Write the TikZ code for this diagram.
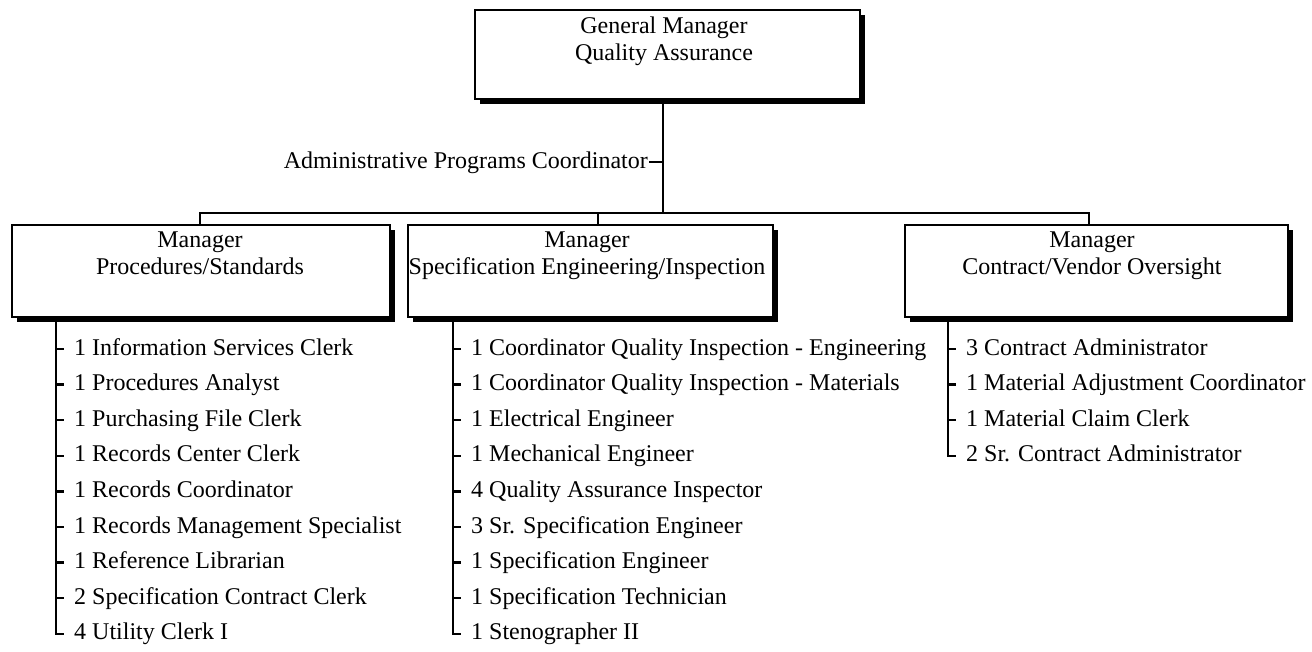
\documentclass[tikz,border=0pt]{standalone}
\usepackage{fontspec}
\setmainfont{Liberation Serif}
\usetikzlibrary{shadows,calc}
\begin{document}
\begin{tikzpicture}[x=1pt,y=-1pt,
  box/.style={draw, line width=2.4pt, fill=white, inner sep=0pt, anchor=north west,
    drop shadow={shadow xshift=4.5pt, shadow yshift=-4.5pt, fill=black, opacity=1}},
  ttl/.style={anchor=north, align=center, inner sep=0pt, font=\fontsize{24}{27}\selectfont},
  item/.style={anchor=base west, inner sep=0pt, font=\fontsize{24}{28}\selectfont},
  ln/.style={line width=2.4pt}]
\useasboundingbox[fill=white] (0,0) rectangle (1312,651);

% boxes
\node[box, minimum width=385pt, minimum height=89pt] (gm) at (474,9) {};
\node[box, minimum width=378pt, minimum height=92pt] (b1) at (11,224) {};
\node[box, minimum width=365pt, minimum height=92pt] (b2) at (407,224) {};
\node[box, minimum width=383pt, minimum height=92pt] (b3) at (904,224) {};

% titles
\node[ttl] (gmt) at (664,17) {General Manager\\Quality Assurance};
\node[ttl] (b1t) at (200,232) {Manager\\Procedures/Standards};
\node[ttl] (b2t) at (587,232) {Manager\\Specification Engineering/Inspection};
\node[ttl] (b3t) at (1092,232) {Manager\\Contract/Vendor Oversight};

% top connector
\coordinate (v0) at (663,101);
\coordinate (bus) at (663,213);
\coordinate (d1) at (200,213);
\coordinate (d2) at (598,213);
\coordinate (d3) at (1089,213);
\draw[ln] (v0) -- (bus);
\draw[ln] (b1.north -| d1) -- (d1) -- (d3) -- (b3.north -| d3);
\draw[ln] (d2) -- (b2.north -| d2);

\node[anchor=base east, inner sep=0pt, font=\fontsize{24}{28}\selectfont] (adm) at (648,168) {Administrative Programs Coordinator};
\draw[ln] ([xshift=1pt,yshift=6pt]adm.base east) -- ([yshift=6pt]adm.base east -| v0);

% list lines
\coordinate (l1) at (56,317);
\coordinate (l2) at (453,317);
\coordinate (l3) at (948,317);

\foreach \t [count=\i] in {1 Information Services Clerk, 1 Procedures Analyst, 1 Purchasing File Clerk, 1 Records Center Clerk, 1 Records Coordinator, 1 Records Management Specialist, 1 Reference Librarian, 2 Specification Contract Clerk, 4 Utility Clerk I}
  \node[item] (p\i) at (74,{355+35.6*(\i-1)}) {\t};

\foreach \t [count=\i] in {1 Coordinator Quality Inspection - Engineering, 1 Coordinator Quality Inspection - Materials, 1 Electrical Engineer, 1 Mechanical Engineer, 4 Quality Assurance Inspector, 3 Sr. Specification Engineer, 1 Specification Engineer, 1 Specification Technician, 1 Stenographer II}
  \node[item] (s\i) at (471,{355+35.6*(\i-1)}) {\t};

\foreach \t [count=\i] in {3 Contract Administrator, 1 Material Adjustment Coordinator, 1 Material Claim Clerk, 2 Sr. Contract Administrator}
  \node[item] (c\i) at (966,{355+35.6*(\i-1)}) {\t};

\foreach \i in {1,...,8} {
  \draw[ln] ([yshift=6pt]p\i.base west -| l1) -- ([xshift=-10pt,yshift=6pt]p\i.base west);
  \draw[ln] ([yshift=6pt]s\i.base west -| l2) -- ([xshift=-10pt,yshift=6pt]s\i.base west);
}
\foreach \i in {1,...,3}
  \draw[ln] ([yshift=6pt]c\i.base west -| l3) -- ([xshift=-10pt,yshift=6pt]c\i.base west);

\draw[ln] (b1.south -| l1) -- ([yshift=6pt]p9.base west -| l1) -- ([xshift=-10pt,yshift=6pt]p9.base west);
\draw[ln] (b2.south -| l2) -- ([yshift=6pt]s9.base west -| l2) -- ([xshift=-10pt,yshift=6pt]s9.base west);
\draw[ln] (b3.south -| l3) -- ([yshift=6pt]c4.base west -| l3) -- ([xshift=-10pt,yshift=6pt]c4.base west);
\end{tikzpicture}
\end{document}
